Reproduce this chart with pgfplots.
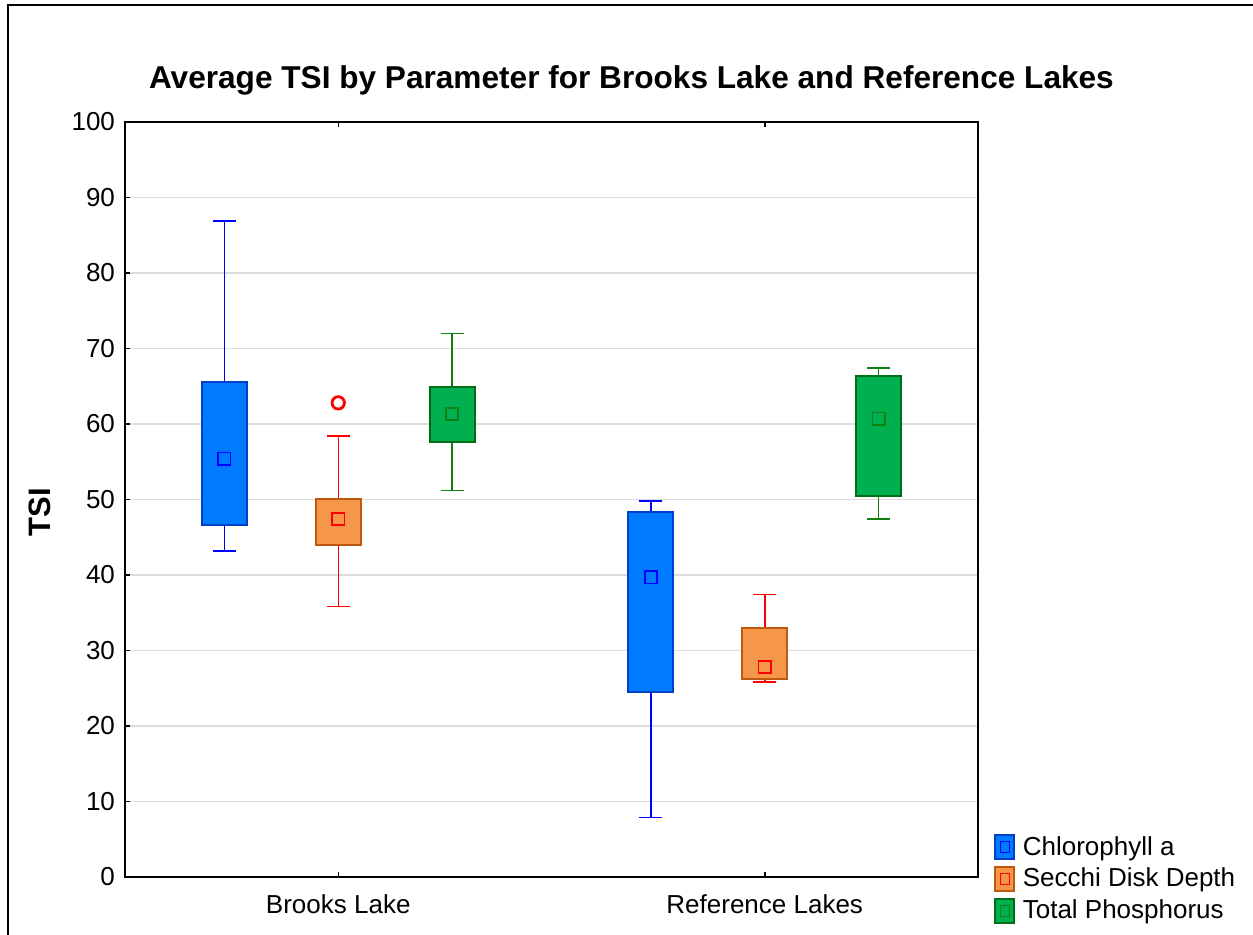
\documentclass[border=0pt]{standalone}
\usepackage{pgfplots}
\pgfplotsset{compat=1.18}
\usepackage{fontspec}
\setmainfont{Liberation Sans}
\definecolor{chlfill}{RGB}{0,122,255}
\definecolor{chledge}{RGB}{0,64,200}
\definecolor{chlwhisk}{RGB}{0,0,255}
\definecolor{secfill}{RGB}{245,150,72}
\definecolor{secedge}{RGB}{190,90,16}
\definecolor{secwhisk}{RGB}{255,0,0}
\definecolor{tpfill}{RGB}{0,176,80}
\definecolor{tpedge}{RGB}{0,110,20}
\definecolor{tpwhisk}{RGB}{16,128,16}
\definecolor{gridgray}{RGB}{220,220,220}
\pgfplotsset{
  myleg/.style n args={3}{
    legend image code/.code={
      \draw[fill=#1, draw=#2, line width=1pt] (0pt,-6pt) rectangle (9.5pt,6pt);
      \draw[draw=#3, line width=0.7pt] (2.4pt,-2.8pt) rectangle (7.1pt,2.8pt);
      \path (11.5pt,0pt);
    },
  },
  whisk/.style={forget plot, draw=#1, line width=0.75pt, unbounded coords=jump, mark=none},
  boxr/.style 2 args={forget plot, fill=#1, draw=#2, line width=1pt, mark=none},
  meanm/.style={forget plot, only marks, mark=square, mark size=3.1pt, color=#1, mark options={line width=0.9pt, fill=none}},
}
\begin{document}
\begin{tikzpicture}
\path[use as bounding box] (-62.5pt,-28.5pt) rectangle (564pt,438.5pt);
\draw[line width=1pt] (-58.5pt,-60pt) -- (-58.5pt,436pt) -- (620pt,436pt);
\begin{axis}[
  at={(0pt,0pt)}, anchor=south west,
  scale only axis, width=426.5pt, height=377.5pt,
  xmin=0.5, xmax=2.5, ymin=0, ymax=100,
  xtick={1,2}, xticklabels={Brooks Lake, Reference Lakes},
  ytick={0,10,...,100},
  xtick pos=both, xticklabel pos=lower, ytick pos=left,
  tick align=inside, major tick length=2.5pt,
  tick style={black, line width=0.75pt},
  axis line style={line width=1pt},
  ymajorgrids, major grid style={draw=gridgray, line width=0.6pt},
  tick label style={font=\fontsize{13}{15}\selectfont},
  /pgf/number format/assume math mode=true,
  yticklabel style={xshift=-1.5pt},
  xticklabel style={yshift=-5.5pt},
  ylabel={TSI},
  ylabel style={font=\bfseries\fontsize{15.5}{18}\selectfont, at={(axis description cs:-0.0879,0.483)}, anchor=base},
  title={Average TSI by Parameter for Brooks Lake and Reference Lakes},
  title style={font=\bfseries\fontsize{15.8}{19}\selectfont, at={(axis description cs:0.5,1)}, anchor=base, yshift=11pt, xshift=40pt},
  legend style={at={(axis description cs:1,0)}, anchor=west, xshift=8pt, yshift=-1pt, draw=none, fill=none, font=\fontsize{13}{15}\selectfont, row sep=1pt, inner sep=0pt},
  legend cell align=left,
]
\addlegendimage{myleg={chlfill}{chledge}{chlwhisk}}
\addlegendentry{Chlorophyll a}
\addlegendimage{myleg={secfill}{secedge}{secwhisk}}
\addlegendentry{Secchi Disk Depth}
\addlegendimage{myleg={tpfill}{tpedge}{tpwhisk}}
\addlegendentry{Total Phosphorus}
% whiskers (min--max with caps)
\addplot[whisk=chlwhisk] coordinates {(0.706,43.2) (0.760,43.2) (nan,nan) (0.733,43.2) (0.733,86.9) (nan,nan) (0.706,86.9) (0.760,86.9) (nan,nan)
  (1.706,7.9) (1.760,7.9) (nan,nan) (1.733,7.9) (1.733,49.8) (nan,nan) (1.706,49.8) (1.760,49.8)};
\addplot[whisk=secwhisk] coordinates {(0.973,35.8) (1.027,35.8) (nan,nan) (1.0,35.8) (1.0,58.4) (nan,nan) (0.973,58.4) (1.027,58.4) (nan,nan)
  (1.973,25.8) (2.027,25.8) (nan,nan) (2.0,25.8) (2.0,37.4) (nan,nan) (1.973,37.4) (2.027,37.4)};
\addplot[whisk=tpwhisk] coordinates {(1.240,51.2) (1.294,51.2) (nan,nan) (1.267,51.2) (1.267,72.0) (nan,nan) (1.240,72.0) (1.294,72.0) (nan,nan)
  (2.240,47.4) (2.294,47.4) (nan,nan) (2.267,47.4) (2.267,67.4) (nan,nan) (2.240,67.4) (2.294,67.4)};
% boxes (quartile range)
\addplot[boxr={chlfill}{chledge}] coordinates {(0.680,46.6) (0.786,46.6) (0.786,65.6) (0.680,65.6)} -- cycle;
\addplot[boxr={chlfill}{chledge}] coordinates {(1.680,24.5) (1.786,24.5) (1.786,48.3) (1.680,48.3)} -- cycle;
\addplot[boxr={secfill}{secedge}] coordinates {(0.947,44.0) (1.053,44.0) (1.053,50.1) (0.947,50.1)} -- cycle;
\addplot[boxr={secfill}{secedge}] coordinates {(1.947,26.2) (2.053,26.2) (2.053,33.0) (1.947,33.0)} -- cycle;
\addplot[boxr={tpfill}{tpedge}] coordinates {(1.214,57.6) (1.320,57.6) (1.320,64.9) (1.214,64.9)} -- cycle;
\addplot[boxr={tpfill}{tpedge}] coordinates {(2.214,50.5) (2.320,50.5) (2.320,66.4) (2.214,66.4)} -- cycle;
% means
\addplot[meanm=chlwhisk] coordinates {(0.733,55.4) (1.733,39.7)};
\addplot[meanm=secwhisk] coordinates {(1.0,47.4) (2.0,27.8)};
\addplot[meanm=tpwhisk] coordinates {(1.267,61.3) (2.267,60.7)};
% outlier
\addplot[forget plot, only marks, mark=o, mark size=3.1pt, color=secwhisk, mark options={line width=1.4pt}] coordinates {(1.0,62.8)};
\end{axis}
\end{tikzpicture}
\end{document}
